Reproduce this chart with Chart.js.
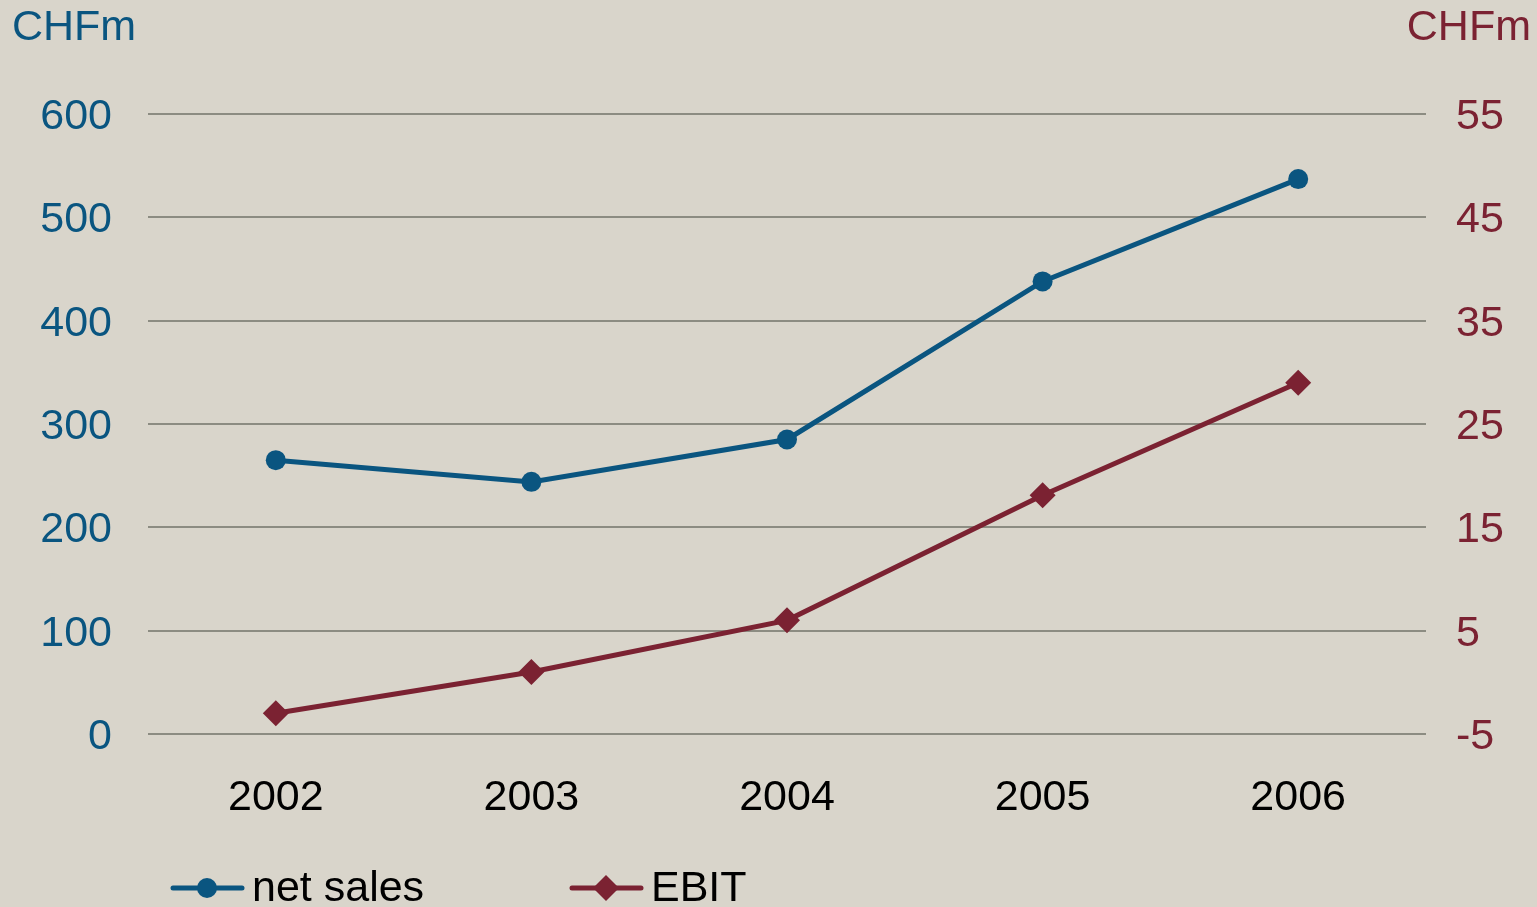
<!DOCTYPE html>
<html>
<head>
<meta charset="utf-8">
<script src="https://cdn.jsdelivr.net/npm/chart.js@4"></script>
<style>
  html,body{margin:0;padding:0;background:#d9d5cb;overflow:hidden;}
  #wrap{width:1537px;height:907px;}
</style>
</head>
<body>
<div id="wrap"><canvas id="chart" width="1537" height="907"></canvas></div>
<script>
const years = ['2002','2003','2004','2005','2006'];
const netSales = [265, 244, 285, 438, 537];
const ebit = [-3, 1, 6, 18.1, 29];
const leftTicks = [0, 100, 200, 300, 400, 500, 600];
const rightTicks = [-5, 5, 15, 25, 35, 45, 55];

const BLUE = '#0a5580';
const RED = '#7b2232';
const FONT = '"Liberation Sans", Arial, sans-serif';
const SIZE = 43;

// background, unit labels and the legend row at the bottom
const decor = {
  id: 'decor',
  beforeDraw(chart){
    const ctx = chart.ctx;
    ctx.save();
    ctx.fillStyle = '#d9d5cb';
    ctx.fillRect(0, 0, chart.width, chart.height);
    ctx.restore();
  },
  afterDraw(chart){
    const ctx = chart.ctx;
    ctx.save();
    ctx.font = SIZE + 'px ' + FONT;
    ctx.textBaseline = 'middle';
    ctx.fillStyle = BLUE;
    ctx.textAlign = 'left';
    ctx.fillText('CHFm', 12, 28);
    ctx.fillStyle = RED;
    ctx.textAlign = 'right';
    ctx.fillText('CHFm', 1531, 28);

    const items = [
      {x: 173, label: 'net sales', color: BLUE, style: 'circle', r: 10},
      {x: 572, label: 'EBIT', color: RED, style: 'rectRot', r: 13}
    ];
    const y = 888;
    for(const it of items){
      ctx.strokeStyle = it.color;
      ctx.lineWidth = 5;
      ctx.lineCap = 'round';
      ctx.beginPath();
      ctx.moveTo(it.x, y);
      ctx.lineTo(it.x + 69, y);
      ctx.stroke();
      ctx.fillStyle = it.color;
      Chart.helpers.drawPoint(ctx, {pointStyle: it.style, radius: it.r, borderWidth: 0}, it.x + 34, y);
      ctx.fillStyle = '#000';
      ctx.textAlign = 'left';
      ctx.fillText(it.label, it.x + 79, y + 1);
    }
    ctx.restore();
  }
};

new Chart(document.getElementById('chart'), {
  type: 'line',
  data: {
    labels: years,
    datasets: [
      {label: 'net sales', data: netSales, yAxisID: 'y', borderColor: BLUE, backgroundColor: BLUE,
       borderWidth: 5, pointStyle: 'circle', pointRadius: 10, pointBorderWidth: 0, tension: 0},
      {label: 'EBIT', data: ebit, yAxisID: 'y1', borderColor: RED, backgroundColor: RED,
       borderWidth: 5, pointStyle: 'rectRot', pointRadius: 13, pointBorderWidth: 0, tension: 0}
    ]
  },
  options: {
    responsive: false,
    animation: false,
    layout: {padding: {top: 114, bottom: 0, left: 0, right: 0}},
    plugins: {legend: {display: false}, tooltip: {enabled: false}},
    scales: {
      x: {
        offset: true,
        grid: {display: false, drawTicks: false},
        border: {display: false},
        ticks: {color: '#000', font: {family: FONT, size: SIZE}, padding: 38},
        afterFit(s){ s.height = 173; }
      },
      y: {
        position: 'left',
        min: 0, max: 600,
        afterBuildTicks(s){ s.ticks = leftTicks.map(v => ({value: v})); },
        grid: {color: '#8c8c82', lineWidth: 2, drawTicks: false},
        border: {display: false},
        ticks: {color: BLUE, font: {family: FONT, size: SIZE}, padding: 36, labelOffset: 3},
        afterFit(s){ s.width = 148; }
      },
      y1: {
        position: 'right',
        min: -5, max: 55,
        afterBuildTicks(s){ s.ticks = rightTicks.map(v => ({value: v})); },
        grid: {display: false, drawTicks: false},
        border: {display: false},
        ticks: {color: RED, font: {family: FONT, size: SIZE}, padding: 30, labelOffset: 3},
        afterFit(s){ s.width = 111; }
      }
    }
  },
  plugins: [decor]
});
</script>
</body>
</html>
